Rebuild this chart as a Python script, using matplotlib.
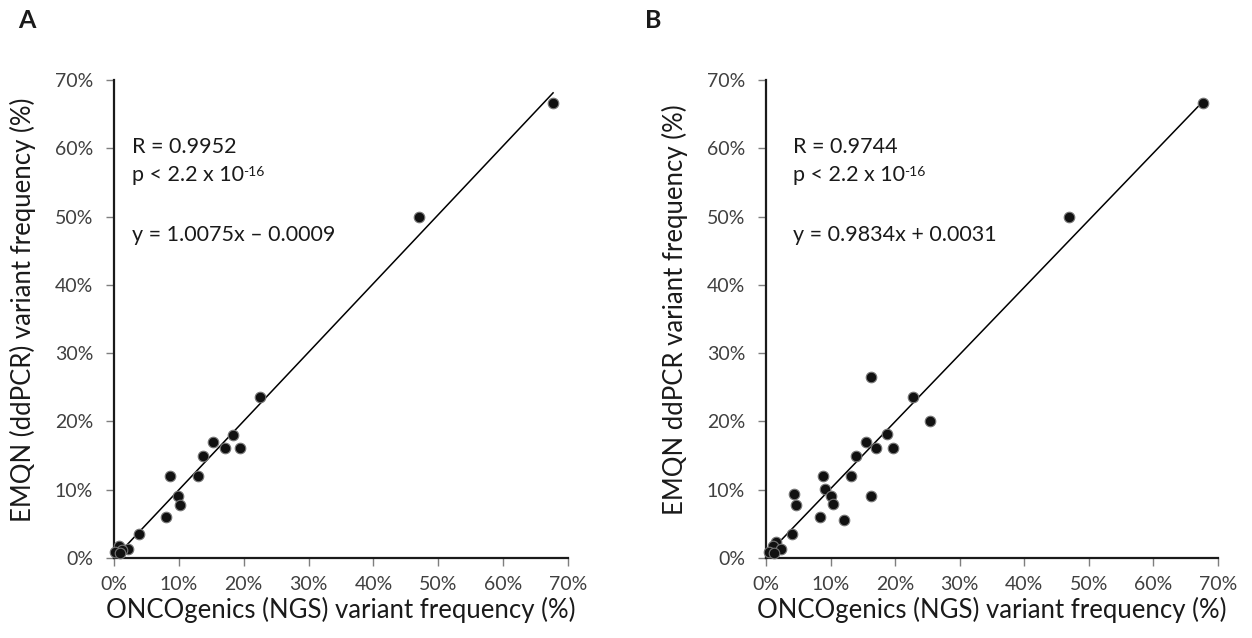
import matplotlib
matplotlib.use("Agg")
from matplotlib import pyplot as plt
from matplotlib.ticker import FuncFormatter
import numpy as np

plt.rcParams["font.family"] = ["Lato", "DejaVu Sans"]

# values in % (NGS x, ddPCR y)
ngs_a = [67.7, 47.0, 22.5, 18.4, 15.2, 17.1, 19.4, 13.7, 8.6, 12.9, 9.9, 10.1,
         8.0, 3.9, 0.8, 2.2, 1.3, 0.15, 0.9]
ddpcr_a = [66.7, 50.0, 23.6, 18.0, 17.0, 16.1, 16.1, 15.0, 12.0, 12.0, 9.1, 7.8,
           6.0, 3.5, 1.8, 1.3, 1.1, 0.9, 0.7]

ngs_b = [67.7, 47.0, 16.2, 22.8, 25.4, 18.7, 15.5, 17.1, 19.6, 13.9, 8.9, 13.2,
         9.1, 10.0, 16.2, 4.3, 4.6, 10.3, 8.3, 12.1, 4.1, 1.5, 1.1, 2.4, 0.5, 1.2]
ddpcr_b = [66.7, 50.0, 26.5, 23.6, 20.1, 18.1, 17.0, 16.1, 16.1, 15.0, 12.0, 12.0,
           10.1, 9.1, 9.1, 9.4, 7.7, 7.9, 6.0, 5.6, 3.5, 2.4, 1.7, 1.3, 0.9, 0.8]

fit_a = (1.0075, -0.0009)
fit_b = (0.9834, 0.0031)

ticks = [0, 10, 20, 30, 40, 50, 60, 70]

fig = plt.figure(figsize=(12.52, 6.38), dpi=100)
W, H = 1252, 638
TXT = "#1a1a1a"

panels = [
    (114, 568, ngs_a, ddpcr_a, fit_a, "A", 27, "EMQN (ddPCR) variant frequency (%)",
     ["R = 0.9952", "p < 2.2 x 10", "y = 1.0075x \u2013 0.0009"], 2.7),
    (766, 1218, ngs_b, ddpcr_b, fit_b, "B", 653, "EMQN ddPCR variant frequency (%)",
     ["R = 0.9744", "p < 2.2 x 10", "y = 0.9834x + 0.0031"], 4.2),
]

for left, right, xs, ys, fit, letter, lx, ylab, notes, tx in panels:
    ax = fig.add_axes([left / W, (H - 558) / H, (right - left) / W, (558 - 80) / H])
    ax.set_xlim(0, 70)
    ax.set_ylim(0, 70)
    ax.set_xticks(ticks)
    ax.set_yticks(ticks)
    pct = FuncFormatter(lambda v, p: f"{v:.0f}%")
    ax.xaxis.set_major_formatter(pct)
    ax.yaxis.set_major_formatter(pct)
    for s in ["top", "right"]:
        ax.spines[s].set_visible(False)
    for s in ["left", "bottom"]:
        ax.spines[s].set_color(TXT)
        ax.spines[s].set_linewidth(1.6)
    ax.tick_params(axis="both", direction="out", length=6, width=1.0,
                   color="#7f7f7f", labelsize=14, labelcolor="#404040")
    ax.tick_params(axis="y", pad=9)
    ax.tick_params(axis="x", pad=7)

    # trendline
    xl = np.array([min(xs), max(xs)])
    ax.plot(xl, (fit[0] * xl / 100 + fit[1]) * 100, color="black", lw=1.1, zorder=2)

    ax.scatter(xs, ys, s=58, color="#111111", edgecolors="#777777", linewidths=0.8,
               zorder=3, clip_on=False)

    ax.set_xlabel("ONCOgenics (NGS) variant frequency (%)", fontsize=18.5,
                  color=TXT, labelpad=3)
    ax.set_ylabel(ylab, fontsize=18.5, color=TXT)
    ax.yaxis.set_label_coords(-91 / (right - left), 0.52)
    ax.yaxis.label.set_va("center")

    ax.text(tx, 59.3, notes[0], fontsize=15.5, color=TXT, va="baseline")
    pt = ax.text(tx, 55.2, notes[1], fontsize=15.5, color=TXT, va="baseline")
    ax.annotate("-16", xy=(1, 0), xycoords=pt, xytext=(-0.5, 13.5),
                textcoords="offset points", fontsize=10, color=TXT,
                va="top", ha="left")
    ax.text(tx, 46.4, notes[2], fontsize=15.5, color=TXT, va="baseline")

    fig.text(lx / W, 1 - 20 / H, letter, fontsize=18, fontweight="bold",
             ha="center", va="center", color=TXT)

fig.savefig("out.png", dpi=100)
